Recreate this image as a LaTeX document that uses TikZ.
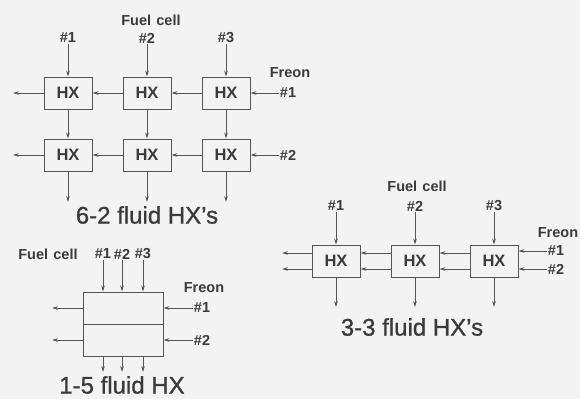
\documentclass[tikz,border=0pt]{standalone}
\usepackage{fontspec}
\setmainfont{Liberation Sans}
\newfontfamily\lblfont[WordSpace=1.3, UprightFont=* Bold]{Liberation Sans}
\newfontfamily\ttlfont[FakeBold=1]{Liberation Sans}
\usetikzlibrary{arrows.meta, positioning, calc}
\definecolor{inkcol}{HTML}{3A3A3A}
\definecolor{linecol}{HTML}{555555}
\definecolor{papercol}{HTML}{F3F3F3}
\tikzset{
  % blocks
  hxbox/.style  = {draw=linecol, line width=0.9pt, minimum width=48pt, minimum height=32pt,
                   inner sep=0pt, text=inkcol, font=\fontsize{16.5}{17}\selectfont\bfseries},
  wide/.style   = {hxbox, minimum width=80pt},
  % texts
  lbl/.style    = {text=inkcol, inner sep=1pt, font=\fontsize{14.5}{15}\lblfont},
  ttl/.style    = {text=inkcol, inner sep=0pt, font=\fontsize{24}{25}\ttlfont},
  % arrows
  flow/.style   = {-{Stealth[length=6pt, width=3.6pt]}, draw=linecol, line width=0.9pt},
}

\begin{document}
\begin{tikzpicture}[x=1pt, y=-1pt]
\fill[papercol] (0,0) rectangle (580,399);
\useasboundingbox (0,0) rectangle (580,399);

% ---------- 6-2 fluid HX's ----------
\foreach \c/\x in {1/68, 2/147, 3/226} {
  \node[hxbox] (ha\c) at (\x,93)  {HX};
  \node[hxbox] (hb\c) at (\x,155) {HX};
  \node[lbl]   (fa\c) at (\x,38)  {\#\c};
  \coordinate  (oa\c) at (\x,202);
}
\node[lbl] (fca) at (151,20) {Fuel cell};
\node[lbl] (fra) at (290,73) {Freon};
\node[lbl] (ra1) at (288,93) {\#1};
\node[lbl] (ra2) at (288,155) {\#2};
\coordinate (la1) at (13,93);
\coordinate (la2) at (13,155);
\node[ttl] (ta) at (147,215) {6-2 fluid HX’s};

\foreach \c in {1,2,3} {
  \draw[flow] (fa\c) -- (ha\c);
  \draw[flow] (ha\c) -- (hb\c);
  \draw[flow] (hb\c) -- (oa\c);
}
\draw[flow] (ra1) -- (ha3);
\draw[flow] (ha3) -- (ha2);
\draw[flow] (ha2) -- (ha1);
\draw[flow] (ha1) -- (la1);
\draw[flow] (ra2) -- (hb3);
\draw[flow] (hb3) -- (hb2);
\draw[flow] (hb2) -- (hb1);
\draw[flow] (hb1) -- (la2);

% ---------- 3-3 fluid HX's ----------
\foreach \c/\x in {1/336, 2/415, 3/494} {
  \node[hxbox] (hc\c) at (\x,261) {HX};
  \node[lbl]   (fc\c) at (\x,206) {\#\c};
  \coordinate  (oc\c) at (\x,307);
}
\node[lbl] (fcc) at (417,186) {Fuel cell};
\node[lbl] (frc) at (558,233) {Freon};
\node[lbl] (rc1) at (556,251) {\#1};
\node[lbl] (rc2) at (556,269) {\#2};
\coordinate (lc1) at (282,253);
\coordinate (lc2) at (282,269);
\node[ttl] (tc) at (412,327) {3-3 fluid HX’s};

\foreach \c in {1,2,3} {
  \draw[flow] (fc\c) -- (hc\c);
  \draw[flow] (hc\c) -- (oc\c);
}
\draw[flow] (rc1.west) -- (rc1.west -| hc3.east);
\draw[flow] (rc2.west) -- (rc2.west -| hc3.east);
\foreach \s in {8,-8} {
  \draw[flow] ([yshift=\s pt]hc3.west) -- ([yshift=\s pt]hc2.east);
  \draw[flow] ([yshift=\s pt]hc2.west) -- ([yshift=\s pt]hc1.east);
}
\draw[flow] ([yshift=8pt]hc1.west) -- (lc1);
\draw[flow] ([yshift=-8pt]hc1.west) -- (lc2);

% ---------- 1-5 fluid HX ----------
\node[wide] (hd1) at (123,308) {};
\node[wide] (hd2) at (123,340) {};
\node[lbl] (fcd) at (48,254) {Fuel cell};
\foreach \c/\x in {1/103, 2/122, 3/143} {
  \node[lbl]  (fd\c) at (\x,254) {\#\c};
  \coordinate (od\c) at (\x,372);
  \draw[flow] (fd\c) -- (fd\c |- hd1.north);
  \draw[flow] (fd\c |- hd2.south) -- (od\c);
}
\node[lbl] (frd) at (204,288) {Freon};
\node[lbl] (rd1) at (202,308) {\#1};
\node[lbl] (rd2) at (202,340) {\#2};
\coordinate (ld1) at (52,308);
\coordinate (ld2) at (52,340);
\node[ttl] (td) at (122,385) {1-5 fluid HX};

\draw[flow] (rd1) -- (hd1);
\draw[flow] (rd2) -- (hd2);
\draw[flow] (hd1) -- (ld1);
\draw[flow] (hd2) -- (ld2);

\end{tikzpicture}
\end{document}
